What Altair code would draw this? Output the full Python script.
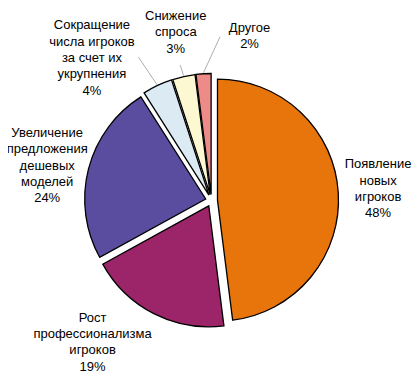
import altair as alt
import pandas as pd

# ---- data ----
categories = [
    "Появление новых игроков",
    "Рост профессионализма игроков",
    "Увеличение предложения дешевых моделей",
    "Сокращение числа игроков за счет их укрупнения",
    "Снижение спроса",
    "Другое",
]
values = [48, 19, 24, 4, 3, 2]
label_lines = [
    "Появление\nновых\nигроков",
    "Рост\nпрофессионализма\nигроков",
    "Увеличение\nпредложения\nдешевых\nмоделей",
    "Сокращение\nчисла игроков\nза счет их\nукрупнения",
    "Снижение\nспроса",
    "Другое",
]
colors = ["#E8740C", "#9C2468", "#5A4C9F", "#DCEAF3", "#FCF9D2", "#EE8B88"]

# ---- layout (label placement, polar around pie centre) ----
CX, CY = 203.5, 192.5
R = 121
EXPLODE = 6
LH = 16.3
label_angle = [86, 220, 282, 320, 348, 13]
label_radius = [167, 185, 168, 186, 172, 169]
has_leader = [0, 0, 0, 1, 1, 1]
leader_angle = [0, 0, 0, 333, 347, 3]
leader_radius = [0, 0, 0, 161, 139, 164]

labels = [f"{t}\n{v}%" for t, v in zip(label_lines, values)]
df = pd.DataFrame({
    "order": list(range(len(categories))),
    "category": categories,
    "value": values,
    "label": labels,
    "nl": [s.count("\n") + 1 for s in labels],
    "la": label_angle,
    "lr": label_radius,
    "leader": has_leader,
    "lda": leader_angle,
    "ldr": leader_radius,
})

base = (
    alt.Chart(df)
    .transform_joinaggregate(total="sum(value)")
    .transform_window(cum="sum(value)", frame=[None, 0], sort=[alt.SortField("order")])
    .transform_calculate(
        t0="2*PI*(datum.cum-datum.value)/datum.total",
        t1="2*PI*datum.cum/datum.total",
    )
    .transform_calculate(mid="(datum.t0+datum.t1)/2")
    .transform_calculate(
        cx=f"{CX}+{EXPLODE}*sin(datum.mid)",
        cy=f"{CY}-{EXPLODE}*cos(datum.mid)",
        lx=f"{CX}+datum.lr*sin(datum.la*PI/180)",
        ly=f"{CY}-datum.lr*cos(datum.la*PI/180)-(datum.nl-1)*{LH}/2",
        sx=f"{CX}+datum.ldr*sin(datum.lda*PI/180)",
        sy=f"{CY}-datum.ldr*cos(datum.lda*PI/180)",
        ex=f"{CX}+{R + EXPLODE + 1}*sin(datum.mid)",
        ey=f"{CY}-{R + EXPLODE + 1}*cos(datum.mid)",
    )
)

arcs = base.mark_arc(radius=R, stroke="black", strokeWidth=1.3).encode(
    x=alt.X("cx:Q", scale=None, axis=None),
    y=alt.Y("cy:Q", scale=None, axis=None),
    theta=alt.Theta("t0:Q", scale=None, stack=False),
    theta2="t1:Q",
    color=alt.Color("category:N", scale=alt.Scale(domain=categories, range=colors), legend=None),
)

rules = base.transform_filter("datum.leader == 1").mark_rule(color="#999999", strokeWidth=0.8).encode(
    x=alt.X("sx:Q", scale=None, axis=None),
    y=alt.Y("sy:Q", scale=None, axis=None),
    x2="ex:Q",
    y2="ey:Q",
)

texts = base.mark_text(
    lineBreak="\n", fontSize=13, font="Liberation Sans", align="center",
    baseline="middle", lineHeight=LH, color="black",
).encode(
    x=alt.X("lx:Q", scale=None, axis=None),
    y=alt.Y("ly:Q", scale=None, axis=None),
    text="label:N",
)

chart = (
    alt.layer(rules, arcs, texts)
    .properties(width=404, height=370, padding=0, autosize="none")
    .configure_view(stroke=None)
)

chart.save("out.html", embed_options={"renderer": "svg", "actions": False})
